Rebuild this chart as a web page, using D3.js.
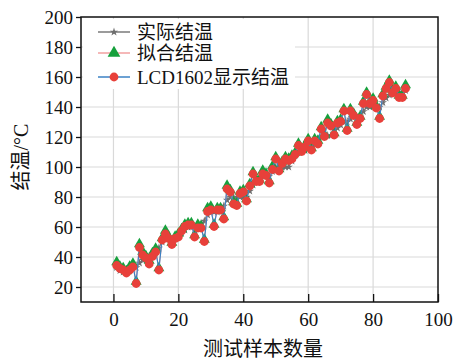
<!DOCTYPE html>
<html><head><meta charset="utf-8">
<script src="https://cdn.jsdelivr.net/npm/d3@7/dist/d3.min.js"></script>
<style>body{margin:0;background:#fff}svg{display:block}</style>
</head><body>
<script>
const samples = d3.range(1, 91);
const actualTemp = [33,31,30,30,31,32,33,36,38,40,40,42,44,46,50,52,52,51,52,54,56,58,60,60,58,60,62,64,68,70,70,70,72,74,78,80,80,79,80,80,80,84,88,90,92,94,94,94,97,100,100,100,100,100,104,108,110,110,111,112,113,115,118,120,120,121,121,122,126,128,130,130,132,134,133,134,137,140,140,141,141,140,143,146,148,150,150,150,150,151];
const fittedTemp = [36,33,32,30,33,35,23,48,43,40,37,42,45,32,52,57,53,49,53,55,58,61,62,62,54,61,60,51,72,73,61,72,72,66,87,84,76,75,83,84,78,88,96,91,91,97,95,90,100,106,98,103,106,105,107,109,115,111,114,118,112,118,117,126,121,131,128,122,130,131,138,125,138,135,129,133,143,149,143,145,140,133,148,153,157,151,153,147,147,154];
const lcdTemp = [35,33,32,30,32,34,23,47,42,40,36,41,44,32,52,56,53,49,53,54,58,61,62,62,54,60,60,51,71,72,61,72,72,66,86,84,76,75,83,84,78,88,96,91,91,96,95,90,99,106,98,103,106,105,106,109,115,111,114,118,112,118,116,126,121,130,128,122,130,131,138,125,138,135,129,133,143,149,143,145,140,133,148,153,157,150,153,147,147,153];
const xTicks = [0,20,40,60,80,100];
const yTicks = [20,40,60,80,100,120,140,160,180,200];
const seriesNames = ["实际结温","拟合结温","LCD1602显示结温"];

const W = 455, H = 361;
const m = {l:81, r:438, t:17, b:302};
const serif = "'Liberation Serif','Noto Sans CJK SC',serif";
const svg = d3.select("body").append("svg").attr("width", W).attr("height", H);

const x = d3.scaleLinear().domain([-10,100]).range([m.l, m.r]);
const y = d3.scaleLinear().domain([10,200]).range([m.b, m.t]);

// grid
svg.append("g").selectAll("line.gx").data(xTicks.filter(d=>d>-10&&d<100)).join("line")
  .attr("x1",d=>x(d)).attr("x2",d=>x(d)).attr("y1",m.t).attr("y2",m.b)
  .attr("stroke","#d9d9d9").attr("stroke-width",1.2);
svg.append("g").selectAll("line.gy").data(yTicks.filter(d=>d<200)).join("line")
  .attr("x1",m.l).attr("x2",m.r).attr("y1",d=>y(d)).attr("y2",d=>y(d))
  .attr("stroke","#d9d9d9").attr("stroke-width",1.2);

// legend background
svg.append("rect").attr("x",m.l+2).attr("y",m.t+2).attr("width",212).attr("height",70).attr("fill","#fff");

const plot = svg.append("g");
const line = d3.line().x((d,i)=>x(samples[i])).y(d=>y(d));

// actual
plot.append("path").datum(actualTemp).attr("d",line).attr("fill","none").attr("stroke","#7a7a7a").attr("stroke-width",1.2);
const star = d3.symbol().type(d3.symbolStar).size(22);
plot.append("g").selectAll("path").data(actualTemp).join("path")
  .attr("d",star).attr("transform",(d,i)=>`translate(${x(samples[i])},${y(d)})`).attr("fill","#6e6e6e");

// fitted
plot.append("path").datum(fittedTemp).attr("d",line).attr("fill","none").attr("stroke","#f2a0a0").attr("stroke-width",1.2);
const tri = d3.symbol().type(d3.symbolTriangle).size(52);
plot.append("g").selectAll("path").data(fittedTemp).join("path")
  .attr("d",tri).attr("transform",(d,i)=>`translate(${x(samples[i])},${y(d)-1})`).attr("fill","#16a03c");

// lcd
plot.append("path").datum(lcdTemp).attr("d",line).attr("fill","none").attr("stroke","#3b82c4").attr("stroke-width",1.2);
plot.append("g").selectAll("circle").data(lcdTemp).join("circle")
  .attr("cx",(d,i)=>x(samples[i])).attr("cy",d=>y(d)+1).attr("r",4.4).attr("fill","#e8403a");

// frame
svg.append("rect").attr("x",m.l).attr("y",m.t).attr("width",m.r-m.l).attr("height",m.b-m.t)
  .attr("fill","none").attr("stroke","#111").attr("stroke-width",1.5);

// axes
const xa = svg.append("g").attr("transform",`translate(0,${m.b})`)
  .call(d3.axisBottom(x).tickValues(xTicks).tickSize(-8).tickPadding(11).tickFormat(d3.format("d")));
const ya = svg.append("g").attr("transform",`translate(${m.l},0)`)
  .call(d3.axisLeft(y).tickValues(yTicks).tickSize(5).tickPadding(3).tickFormat(d3.format("d")));
[xa,ya].forEach(a=>{
  a.select(".domain").remove();
  a.selectAll(".tick line").attr("stroke","#111").attr("stroke-width",1.3);
  a.selectAll("text").attr("font-family",serif).attr("font-size",19).attr("fill","#111");
});

// titles
svg.append("text").attr("x",263).attr("y",356).attr("text-anchor","middle")
  .attr("font-family",serif).attr("font-size",20).attr("fill","#111").text("测试样本数量");
svg.append("text").attr("transform","translate(28,157) rotate(-90)").attr("text-anchor","middle")
  .attr("font-family",serif).attr("font-size",20).attr("fill","#111").text("结温/°C");

// legend
const lg = svg.append("g");
const rows = [32,53,77];
const lx1 = 98, lx2 = 130, lcx = 114;
const lineColors = ["#7a7a7a","#f2a0a0","#3b82c4"];
seriesNames.forEach((name,i)=>{
  lg.append("line").attr("x1",lx1).attr("x2",lx2).attr("y1",rows[i]).attr("y2",rows[i])
    .attr("stroke",lineColors[i]).attr("stroke-width",1.5);
  lg.append("text").attr("x",137).attr("y",rows[i]+7).attr("font-family",serif)
    .attr("font-size",19).attr("fill","#111").text(name);
});
lg.append("path").attr("d",star).attr("transform",`translate(${lcx},${rows[0]})`).attr("fill","#6e6e6e");
lg.append("path").attr("d",d3.symbol().type(d3.symbolTriangle).size(70)).attr("transform",`translate(${lcx},${rows[1]})`).attr("fill","#16a03c");
lg.append("circle").attr("cx",lcx).attr("cy",rows[2]).attr("r",4.4).attr("fill","#e8403a");
</script>
</body></html>
